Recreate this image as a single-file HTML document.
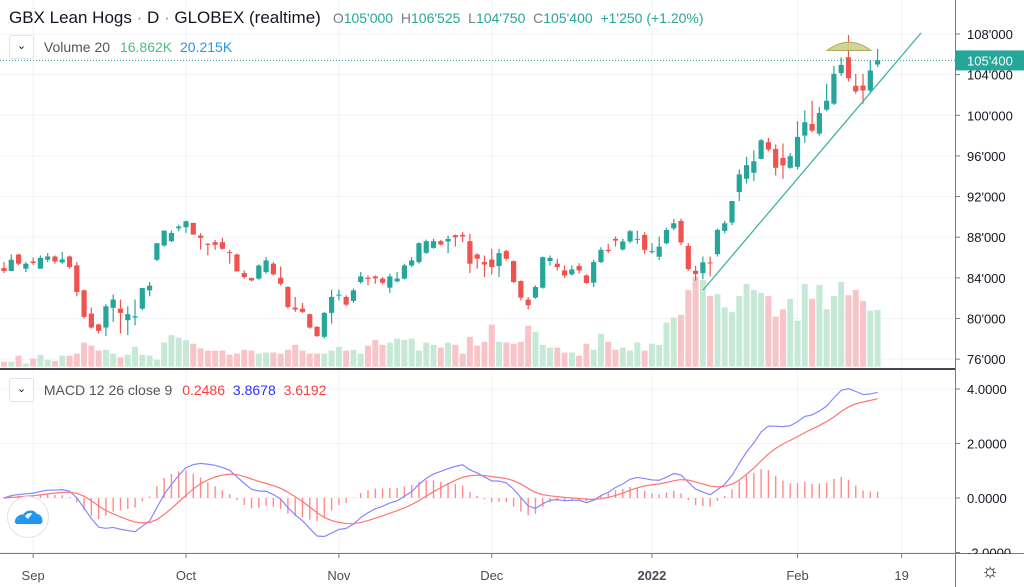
<!DOCTYPE html>
<html><head><meta charset="utf-8">
<style>
html,body{margin:0;padding:0;background:#fff;}
body{width:1024px;height:587px;overflow:hidden;position:relative;font-family:"Liberation Sans",sans-serif;}
svg{position:absolute;left:0;top:0;}
.t{font-family:"Liberation Sans",sans-serif;}
</style></head>
<body>
<svg id="chart" width="1024" height="587" viewBox="0 0 1024 587" xmlns="http://www.w3.org/2000/svg">
  <g id="grid"></g>
  <g id="volume"></g>
  <g id="candles"></g>
  <g id="macd"></g>
  <g id="axes"></g>
  <g id="overlay"></g>
</svg>
<script>
const opens=[84.96,84.67,86.30,84.90,85.61,84.90,85.78,86.10,85.52,86.10,85.22,82.77,80.48,79.41,79.11,81.04,80.97,79.83,80.09,80.97,82.77,85.78,87.18,87.61,88.88,88.98,89.41,88.16,87.35,87.51,87.51,86.53,86.30,84.47,83.98,83.92,84.57,85.39,84.01,83.10,81.07,80.97,80.42,79.18,78.20,80.55,82.25,82.12,81.73,83.59,84.01,84.14,83.92,83.03,83.65,83.92,85.22,85.55,86.46,86.95,87.61,87.58,88.20,88.23,87.61,86.30,85.55,85.81,85.16,86.63,85.65,83.69,81.86,82.05,83.03,85.65,85.39,84.73,84.34,85.16,84.24,83.52,85.55,86.76,87.84,86.79,87.58,87.74,88.23,86.53,86.08,87.40,88.88,89.60,87.15,84.70,84.47,85.52,86.33,88.62,89.44,92.44,93.75,94.34,95.71,97.35,96.69,95.81,94.83,94.93,98.0,99.14,98.20,100.55,101.14,104.14,105.71,102.90,102.93,102.44,105.0];
const highs=[85.55,86.30,86.37,85.55,86.0,86.20,86.43,86.20,86.53,86.20,85.55,82.84,81.07,79.50,81.40,82.35,81.86,81.20,81.86,83.00,83.59,87.41,88.65,88.65,89.24,89.63,89.41,88.39,87.41,87.74,87.93,86.76,86.37,84.73,84.01,85.32,86.04,85.55,85.12,83.16,82.12,81.53,80.48,79.24,80.65,82.84,82.84,82.28,82.93,84.57,84.24,84.24,84.08,84.41,84.57,85.39,86.04,87.51,87.77,87.84,87.74,88.16,88.26,88.49,88.33,86.43,86.20,86.86,86.86,86.76,85.71,83.75,82.12,83.26,86.10,86.20,85.88,85.22,85.22,85.45,84.34,85.78,87.02,87.35,88.07,87.84,88.72,88.65,88.49,87.41,88.05,88.94,89.79,89.83,87.41,85.19,86.10,86.10,88.85,89.60,91.56,94.67,95.91,96.56,97.67,97.77,97.12,97.22,96.30,99.41,100.48,101.43,100.81,103.10,104.86,105.71,107.90,104.08,104.08,105.39,106.525];
const lows=[84.47,84.67,85.22,84.57,85.29,84.90,85.55,85.39,85.39,84.90,82.18,80.00,79.01,78.52,78.26,79.67,78.52,78.36,79.34,80.81,82.18,85.65,87.08,87.51,88.59,88.42,88.26,86.79,86.20,86.76,86.76,85.39,84.63,83.92,83.65,83.82,84.41,84.24,83.26,80.97,80.65,80.55,79.01,78.20,78.03,79.50,81.79,81.20,81.53,83.42,83.26,83.42,83.36,82.51,83.56,83.85,85.06,85.39,86.37,86.86,87.18,86.43,87.08,87.51,84.47,84.90,84.08,84.34,84.08,85.71,83.49,81.79,80.88,81.95,82.93,85.22,84.73,84.01,84.24,84.41,83.42,83.10,85.45,86.43,87.08,86.69,87.41,87.35,86.37,86.37,85.75,87.30,88.71,87.22,84.70,83.72,83.88,84.14,86.10,88.39,89.18,91.56,93.29,93.52,95.65,96.46,94.08,93.75,94.73,94.67,97.28,98.33,98.0,100.39,101.01,103.88,103.33,102.12,101.14,102.25,104.75];
const closes=[84.67,85.78,85.39,85.39,85.45,85.97,86.10,85.61,85.81,85.06,82.61,80.16,79.11,78.78,81.20,81.86,80.55,80.42,80.22,83.00,83.23,87.41,88.65,88.42,89.05,89.57,88.26,87.93,87.25,87.25,86.86,86.43,84.63,84.08,83.75,85.22,85.71,84.34,83.42,81.14,80.88,80.65,79.11,78.26,80.55,82.12,82.35,81.37,82.77,84.14,83.88,83.95,83.52,84.14,83.92,85.22,85.71,87.41,87.61,87.61,87.28,87.84,88.00,88.07,85.39,85.88,85.32,85.06,86.43,85.88,83.59,82.05,81.30,83.10,86.04,85.97,85.06,84.24,84.83,84.73,83.49,85.55,86.76,86.63,87.67,87.58,88.59,87.84,86.76,86.63,87.07,88.71,89.37,87.48,84.86,84.37,85.52,85.42,88.72,89.37,91.56,94.18,95.09,95.48,97.54,96.63,94.83,95.06,95.97,97.87,99.31,98.49,100.22,101.43,104.08,104.96,103.65,102.35,102.44,104.41,105.4];
const volumes=[1.8,1.8,4.0,1.2,2.9,4.3,2.5,2.1,4.0,4.0,4.7,8.7,7.6,5.8,6.1,4.7,3.4,4.3,7.2,4.3,4.0,2.5,8.7,11.4,10.5,9.6,8.3,6.6,5.8,5.8,5.8,4.3,4.7,6.1,5.8,4.7,5.1,5.1,4.7,6.1,7.9,5.8,4.7,4.7,4.7,5.8,7.2,5.8,6.1,4.7,7.6,9.7,7.9,8.7,10.1,9.7,10.1,5.8,8.7,7.9,6.9,8.7,7.9,4.7,10.8,7.6,9.0,15.2,9.0,8.7,8.3,9.0,14.8,12.6,7.9,6.9,6.9,5.1,5.1,4.0,8.3,6.1,11.9,9.0,6.1,6.9,5.8,8.7,5.8,8.3,7.9,15.9,17.7,18.7,27.7,32.5,31.3,25.5,26.2,21.4,19.7,25.5,29.9,27.7,26.7,25.5,18.1,20.7,24.5,16.6,29.9,24.5,29.5,20.7,25.5,30.6,25.8,27.7,23.7,20.2,20.5];
const priceTicks=[76,80,84,88,92,96,100,104,108];
const macdTicks=[4,2,0,-2];
const timeLabels=["Sep","Oct","Nov","Dec","2022","Feb","19"];
const timeIndex=[4,25,46,67,89,109,123.3];

const NS="http://www.w3.org/2000/svg";
const PW=955;
const xOf=i=>4+i*7.28;
const yP=p=>34+(108-p)*10.16;
const yV=v=>366.7-v*2.77;
const yM=m=>498-m*27.25;
function mk(tag,attrs,parent){const e=document.createElementNS(NS,tag);for(const k in attrs)e.setAttribute(k,attrs[k]);parent.appendChild(e);return e;}
function fmtP(p){const v=Math.round(p*1000);const s=String(v);return s.slice(0,-3)+"'"+s.slice(-3);}

const grid=document.getElementById('grid');
priceTicks.forEach(p=>{const l=mk('line',{x1:0,x2:PW,y1:yP(p),y2:yP(p),stroke:'#f0f3fa','stroke-width':1},grid);

});
macdTicks.forEach(m=>{const l=mk('line',{x1:0,x2:PW,y1:yM(m),y2:yM(m),stroke:'#f0f3fa','stroke-width':1},grid);

});
timeIndex.forEach(t=>{const l=mk('line',{x1:xOf(t),x2:xOf(t),y1:0,y2:553,stroke:'#f0f3fa','stroke-width':1},grid);

});

// volume
const vg=document.getElementById('volume');
volumes.forEach((v,i)=>{const up=closes[i]>=opens[i];
const r=mk('rect',{x:xOf(i)-3,y:yV(v),width:6,height:366.7-yV(v),fill:up?'#c6e9d6':'#f8c4c8'},vg);

});

// candles
const cg=document.getElementById('candles');
closes.forEach((c,i)=>{const o=opens[i];const up=c>=o;const col=up?'#26a69a':'#ef5350';const x=xOf(i);
const g=mk('g',{},cg);


mk('line',{x1:x,x2:x,y1:yP(highs[i]),y2:yP(lows[i]),stroke:col,'stroke-width':1.2},g);
const top=yP(Math.max(o,c)),bot=yP(Math.min(o,c));
mk('rect',{x:x-2.6,y:top,width:5.2,height:Math.max(1,bot-top),fill:col},g);});

// MACD computed from closes
function ema(arr,n){const a=2/(n+1);const out=[];let e=arr[0];arr.forEach((v,i)=>{e=i?a*v+(1-a)*e:v;out.push(e);});return out;}
const e12=ema(closes,12),e26=ema(closes,26);
const macdLine=closes.map((_,i)=>e12[i]-e26[i]);
const signalLine=ema(macdLine,9);
const histVals=macdLine.map((m,i)=>m-signalLine[i]);
const mg=document.getElementById('macd');
histVals.forEach((h,i)=>{const r=mk('line',{x1:xOf(i),x2:xOf(i),y1:yM(0),y2:yM(h)+(Math.abs(h)<0.02?-1:0),stroke:'#ff8a8a','stroke-width':1.4},mg);

});
const ml=mk('polyline',{points:macdLine.map((m,i)=>xOf(i)+','+yM(m)).join(' '),fill:'none',stroke:'#8787ff','stroke-width':1.2},mg);


const sl=mk('polyline',{points:signalLine.map((m,i)=>xOf(i)+','+yM(m)).join(' '),fill:'none',stroke:'#ff7575','stroke-width':1.2},mg);



// axes
const ax=document.getElementById('axes');
let e;
e=mk('line',{x1:0,x2:PW,y1:369,y2:369,stroke:'#434651','stroke-width':2},ax);


e=mk('line',{x1:0,x2:1024,y1:553.5,y2:553.5,stroke:'#787b86','stroke-width':1},ax);


e=mk('line',{x1:955.5,x2:955.5,y1:0,y2:587,stroke:'#787b86','stroke-width':1},ax);


e=mk('rect',{x:956,y:554,width:68,height:33,fill:'#fff'},ax);
priceTicks.forEach(p=>{mk('line',{x1:955,x2:960,y1:yP(p),y2:yP(p),stroke:'#787b86'},ax);
const t=mk('text',{x:967,y:yP(p)+5,'font-size':13,fill:'#131722',class:'t'},ax);t.textContent=fmtP(p);

});
macdTicks.forEach(m=>{mk('line',{x1:955,x2:960,y1:yM(m),y2:yM(m),stroke:'#787b86'},ax);
const t=mk('text',{x:967,y:yM(m)+5,'font-size':13,fill:'#131722',class:'t'},ax);t.textContent=m.toFixed(4);
if(m<0)t.setAttribute('clip-path','inset(0 0 4px 0)');

});
e=mk('rect',{x:956,y:554,width:68,height:33,fill:'#fff'},ax);
timeLabels.forEach((lab,k)=>{const x=xOf(timeIndex[k]);mk('line',{x1:x,x2:x,y1:553,y2:558,stroke:'#787b86'},ax);
const t=mk('text',{x:x,y:580,'font-size':13,'text-anchor':'middle',fill:'#4a4e59','font-weight':lab==='2022'?'bold':'normal',class:'t'},ax);t.textContent=lab;

});

// overlay
const ov=document.getElementById('overlay');
e=mk('line',{x1:0,x2:955,y1:yP(closes[closes.length-1]),y2:yP(closes[closes.length-1]),stroke:'#26a69a','stroke-width':1,'stroke-dasharray':'1,2'},ov);


const ly=yP(closes[closes.length-1]);
e=mk('rect',{x:956,y:ly-10,width:68,height:20,fill:'#26a69a'},ov);


e=mk('text',{x:967,y:ly+5,'font-size':13,fill:'#fff',class:'t'},ov);e.textContent=fmtP(closes[closes.length-1]);


e=mk('line',{x1:703,y1:290,x2:921,y2:33,stroke:'#3fb3a0','stroke-width':1.3},ov);


e=mk('path',{d:'M827,50.5 Q849,34 871,50.5 Z',fill:'#cfd08e',stroke:'#a3a447','stroke-width':1,opacity:0.9},ov);


</script>

<div style="position:absolute;left:9px;top:8px;font-size:17px;color:#131722;white-space:nowrap;">GBX Lean Hogs <span style="color:#888">·</span> D <span style="color:#888">·</span> GLOBEX (realtime)<span style="font-size:14px;margin-left:12px;"><span style="color:#787b86">O</span><span style="color:#26a69a">105'000</span>&nbsp;&nbsp;<span style="color:#787b86">H</span><span style="color:#26a69a">106'525</span>&nbsp;&nbsp;<span style="color:#787b86">L</span><span style="color:#26a69a">104'750</span>&nbsp;&nbsp;<span style="color:#787b86">C</span><span style="color:#26a69a">105'400</span>&nbsp;&nbsp;<span style="color:#26a69a">+1'250 (+1.20%)</span></span></div>
<div style="position:absolute;left:9px;top:35px;font-size:14px;white-space:nowrap;height:24px;">
<span style="display:inline-block;width:23px;height:22px;border:1px solid #e0e3eb;border-radius:3px;vertical-align:middle;text-align:center;line-height:20px;font-size:11px;color:#131722;background:#fff;">&#8964;</span>
<span style="color:#555;margin-left:6px;vertical-align:middle;">Volume 20</span>
<span style="color:#53b987;margin-left:6px;vertical-align:middle;">16.862K</span>
<span style="color:#2196f3;margin-left:4px;vertical-align:middle;">20.215K</span></div>
<div style="position:absolute;left:9px;top:378px;font-size:14px;white-space:nowrap;">
<span style="display:inline-block;width:23px;height:22px;border:1px solid #e0e3eb;border-radius:3px;vertical-align:middle;text-align:center;line-height:20px;font-size:11px;color:#131722;background:#fff;">&#8964;</span>
<span style="color:#555;margin-left:6px;vertical-align:middle;">MACD 12 26 close 9</span>
<span style="color:#ff3b3b;margin-left:6px;vertical-align:middle;">0.2486</span>
<span style="color:#3030ff;margin-left:4px;vertical-align:middle;">3.8678</span>
<span style="color:#ff3b3b;margin-left:4px;vertical-align:middle;">3.6192</span></div>
<div style="position:absolute;left:7px;top:496px;width:40px;height:40px;border-radius:50%;border:1px solid #e0e3eb;background:#fff;">
<svg width="40" height="40" viewBox="0 0 40 40"><path d="M8,26 L14,17 L20,22 L26,14 L33,22 L33,27 L8,27 Z" fill="#2196f3"/><path d="M8,26 C8,20 13,18 16,19 C18,14 26,13 28,18 C32,18 34,22 33,26" fill="none" stroke="#2196f3" stroke-width="2.5"/></svg></div>
<div style="position:absolute;left:979px;top:560px;width:22px;height:22px;font-size:20px;line-height:22px;text-align:center;color:#131722;">&#9788;</div>
</body></html>
